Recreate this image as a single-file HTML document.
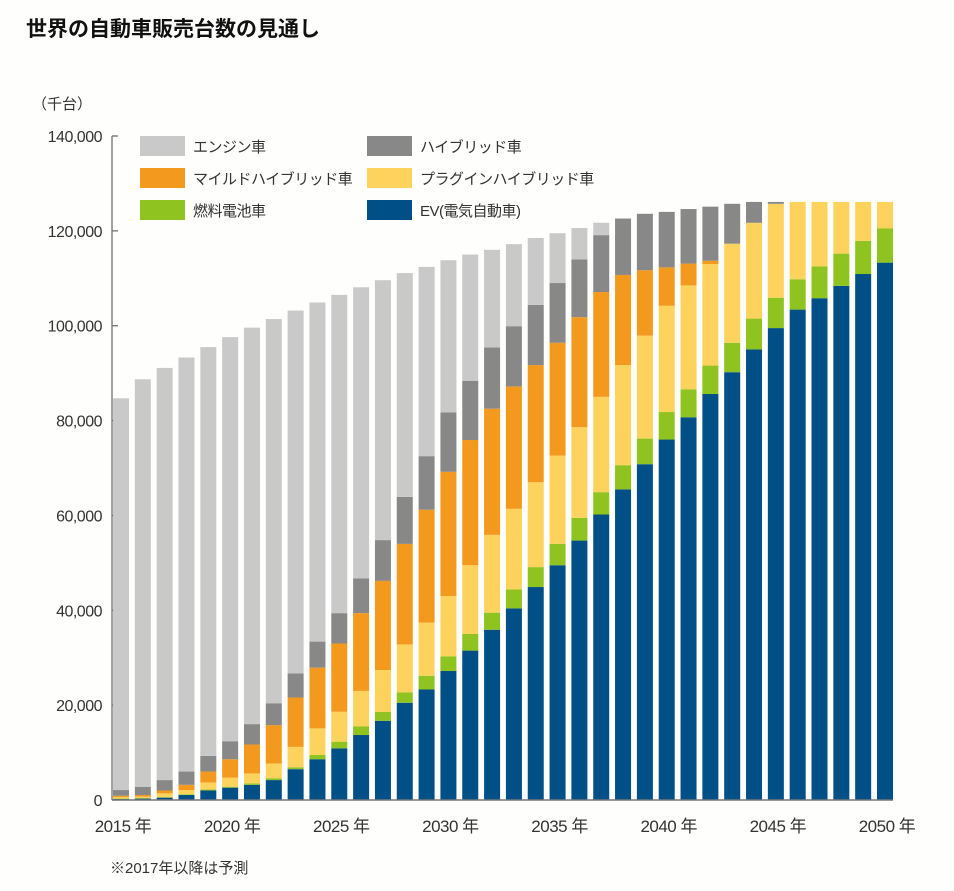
<!DOCTYPE html>
<html><head><meta charset="utf-8">
<style>
body{margin:0;background:#fefefc;}
svg{display:block;font-family:"Liberation Sans","Noto Sans CJK JP",sans-serif;}
</style></head>
<body>
<svg id="chart" width="954" height="891" viewBox="0 0 954 891" xmlns="http://www.w3.org/2000/svg">
<rect width="954" height="891" fill="#fefefc"/>
<text x="26" y="36" font-size="21" font-weight="bold" fill="#111">世界の自動車販売台数の見通し</text>
<text x="32" y="109" font-size="15" fill="#333">（千台）</text>
<g id="yaxis"></g>
<g id="bars"></g>
<g id="xaxis"></g>
<g id="legend"></g>
<text x="110" y="873" font-size="15" fill="#333">※2017年以降は予測</text>
</svg>
<script>
const years = [2015,2016,2017,2018,2019,2020,2021,2022,2023,2024,2025,2026,2027,2028,2029,2030,2031,2032,2033,2034,2035,2036,2037,2038,2039,2040,2041,2042,2043,2044,2045,2046,2047,2048,2049,2050];
const evValues = [0.2,0.3,0.5,1.05,2.0,2.6,3.2,4.2,6.5,8.6,10.9,13.7,16.7,20.5,23.3,27.2,31.5,35.9,40.4,44.9,49.5,54.7,60.2,65.5,70.8,76.0,80.7,85.6,90.2,95.0,99.5,103.4,105.8,108.4,110.9,113.3];
const fcValues = [0.1,0.1,0.1,0.15,0.2,0.2,0.3,0.4,0.4,0.9,1.4,1.8,1.9,2.2,2.9,3.1,3.5,3.6,4.0,4.2,4.5,4.8,4.7,5.1,5.4,5.8,5.9,6.0,6.2,6.5,6.4,6.4,6.7,6.8,7.0,7.2];
const phvValues = [0.3,0.3,0.8,0.9,1.5,1.9,2.1,3.1,4.3,5.6,6.3,7.5,8.8,10.1,11.2,12.7,14.5,16.4,17.0,17.9,18.6,19.1,20.1,21.1,21.7,22.4,21.9,21.4,20.9,20.2,19.8,16.3,13.6,10.9,8.2,5.6];
const mhvValues = [0.3,0.35,0.6,1.1,2.3,3.9,6.1,8.1,10.4,12.8,14.4,16.4,18.8,21.2,23.8,26.2,26.4,26.6,25.8,24.7,23.8,23.2,22.1,19.0,13.8,8.1,4.6,0.7,0,0,0,0,0,0,0,0];
const hvValues = [1.2,1.75,2.2,2.8,3.3,3.8,4.3,4.6,5.1,5.5,6.4,7.3,8.6,9.9,11.3,12.5,12.5,12.9,12.7,12.7,12.6,12.2,12.0,11.9,11.9,11.7,11.5,11.4,8.4,4.4,0.4,0,0,0,0,0];
const engineValues = [82.6,85.9,86.9,87.3,86.2,85.2,83.6,81.0,76.5,71.5,67.1,61.4,54.8,47.2,39.9,32.1,26.6,20.6,17.3,14.1,10.5,6.6,2.6,0,0,0,0,0,0,0,0,0,0,0,0,0];
const yTicks = [0,20,40,60,80,100,120,140];
const yTickLabels = ["0","20,000","40,000","60,000","80,000","100,000","120,000","140,000"];
const xLabelYears = [2015,2020,2025,2030,2035,2040,2045,2050];

const NS = "http://www.w3.org/2000/svg";
const y0 = 800, yTop = 136, yMax = 140;
function yScale(v){ return y0 - v/yMax*(y0-yTop); }
const xFirst = 121, xLast = 885;
function xScale(yr){ return xFirst + (yr-years[0])*(xLast-xFirst)/(years[years.length-1]-years[0]); }
const barW = 16;
function mk(tag, attrs, parent){ const e=document.createElementNS(NS,tag); for(const k in attrs) e.setAttribute(k,attrs[k]); parent.appendChild(e); return e; }

const series = [
 {name:"ev", vals:evValues, color:"#004f86", label:"EV(電気自動車)"},
 {name:"fuel-cell", vals:fcValues, color:"#8fc31f", label:"燃料電池車"},
 {name:"plugin-hybrid", vals:phvValues, color:"#fdd35e", label:"プラグインハイブリッド車"},
 {name:"mild-hybrid", vals:mhvValues, color:"#f39a1e", label:"マイルドハイブリッド車"},
 {name:"hybrid", vals:hvValues, color:"#888888", label:"ハイブリッド車"},
 {name:"engine", vals:engineValues, color:"#c9c9c9", label:"エンジン車"}
];

const ya = document.getElementById('yaxis');
const axl = mk('line',{x1:112,y1:yTop,x2:112,y2:y0,stroke:'#666','stroke-width':1.2},ya);


yTicks.forEach((t,i)=>{
  const tk = mk('line',{x1:112,y1:yScale(t),x2:118,y2:yScale(t),stroke:'#666','stroke-width':1.2},ya);
  
  
  const tx = mk('text',{x:102,y:yScale(t)+6,'font-size':16,'text-anchor':'end',fill:'#333','letter-spacing':'-0.5'},ya);
  tx.textContent = yTickLabels[i];
  
  
});

const bg = document.getElementById('bars');
years.forEach((yr,i)=>{
  let cum = 0;
  series.forEach(s=>{
    const v = s.vals[i];
    if(v<=0) return;
    const top = yScale(cum+v), bot = yScale(cum);
    const r = mk('rect',{x:xScale(yr)-barW/2,y:top,width:barW,height:bot-top,fill:s.color},bg);
    
    
    cum += v;
  });
});

const xa = document.getElementById('xaxis');
const bl = mk('line',{x1:112,y1:y0,x2:893,y2:y0,stroke:'#777','stroke-width':1.5},xa);


xLabelYears.forEach(yr=>{
  const tx = mk('text',{x:xScale(yr)+2,y:832,'font-size':17,'text-anchor':'middle',fill:'#333','letter-spacing':'-0.5'},xa);
  tx.textContent = yr+' 年';
  
  
});

const lg = document.getElementById('legend');
const legendOrder = [5,4,3,2,1,0];
legendOrder.forEach((si,k)=>{
  const s = series[si];
  const col = k%2, row = Math.floor(k/2);
  const sx = col===0?140:367, sy = 136+row*32;
  const g = mk('g',{},lg);
  
  
  const r = mk('rect',{x:sx,y:sy,width:45,height:20,fill:s.color},g);
  
  
  const t = mk('text',{x:sx+53,y:sy+16,'font-size':15,fill:'#333','letter-spacing':'-0.5'},g);
  t.textContent = s.label;
  
  
});
</script>
</body></html>
